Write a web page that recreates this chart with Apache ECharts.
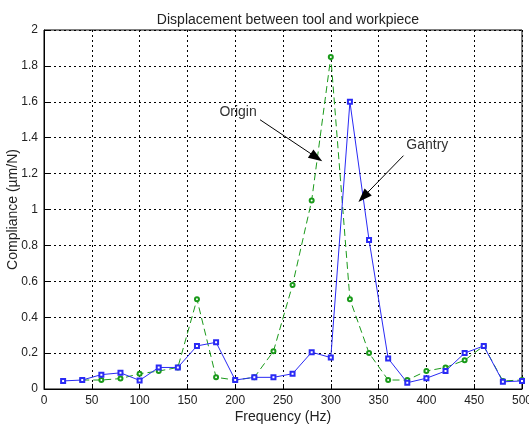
<!DOCTYPE html>
<html>
<head>
<meta charset="utf-8">
<script src="https://cdn.jsdelivr.net/npm/echarts@6/dist/echarts.min.js"></script>
<style>
  html, body { margin: 0; padding: 0; background: #fff; }
  #chart { width: 529px; height: 426px; }
</style>
</head>
<body>
<div id="chart"></div>
<script>
// frequencies (Hz)
var freq = [20, 40, 60, 80, 100, 120, 140, 160, 180, 200, 220, 240, 260,
            280, 300, 320, 340, 360, 380, 400, 420, 440, 460, 480, 500];
// compliance (um/N)
var gantry = [0.045, 0.05, 0.08, 0.09, 0.048, 0.12, 0.12, 0.24, 0.26, 0.05, 0.065, 0.065, 0.085,
              0.205, 0.175, 1.6, 0.83, 0.17, 0.035, 0.06, 0.1, 0.2, 0.24, 0.04, 0.045];
var origin = [null, 0.05, 0.05, 0.058, 0.085, 0.1, 0.12, 0.5, 0.065, 0.05, 0.065, 0.21, 0.58,
              1.05, 1.85, 0.5, 0.2, 0.05, 0.05, 0.1, 0.12, 0.16, 0.24, 0.045, 0.05];

function pairs(vals) {
  return freq.map(function (f, i) { return [f, vals[i]]; });
}

var fontFam = 'Liberation Sans, Arial, sans-serif';

var option = {
  animation: false,
  backgroundColor: '#fff',
  title: {
    text: 'Displacement between tool and workpiece',
    left: 283, top: 8, textAlign: 'center',
    textStyle: { fontSize: 14, fontWeight: 'normal', color: '#222', fontFamily: fontFam }
  },
  grid: {
    left: 44, right: 7, top: 30, bottom: 37,
    outerBoundsMode: 'none', containLabel: false,
    show: true, borderColor: '#000', borderWidth: 1
  },
  xAxis: {
    type: 'value', min: 0, max: 500, interval: 50,
    name: 'Frequency (Hz)', nameLocation: 'middle', nameGap: 21, nameMoveOverlap: false,
    nameTextStyle: { fontSize: 14, color: '#222', fontFamily: fontFam },
    axisLine: { lineStyle: { color: '#000' } },
    axisTick: { inside: true, length: 5, lineStyle: { color: '#000' } },
    axisLabel: { fontSize: 12, color: '#222', margin: 6, fontFamily: fontFam },
    splitLine: { lineStyle: { color: '#000', type: [2, 3], width: 1 } }
  },
  yAxis: {
    type: 'value', min: 0, max: 2, interval: 0.2,
    name: 'Compliance (\u00b5m/N)', nameLocation: 'middle', nameGap: 24, nameMoveOverlap: false,
    nameTextStyle: { fontSize: 14, color: '#222', fontFamily: fontFam },
    axisLine: { show: true, lineStyle: { color: '#000' } },
    axisTick: { show: true, inside: true, length: 5, lineStyle: { color: '#000' } },
    axisLabel: { fontSize: 12, color: '#222', margin: 6, fontFamily: fontFam },
    splitLine: { lineStyle: { color: '#000', type: [2, 3], width: 1 } }
  },
  series: [
    {
      name: 'Origin',
      type: 'line',
      data: pairs(origin),
      symbol: 'emptyCircle', symbolSize: 4,
      lineStyle: { color: '#1a9a1a', width: 1, type: [7, 4] },
      itemStyle: { color: '#1a9a1a', borderWidth: 1 },
      markLine: {
        silent: true, symbol: ['none', 'triangle'], symbolSize: [10, 14],
        lineStyle: { color: '#000', width: 1, type: 'solid' },
        label: { show: false },
        data: [[{ coord: [226, 1.5] }, { coord: [285, 1.29] }]]
      },
      markPoint: {
        symbol: 'circle', symbolSize: 1, itemStyle: { color: 'rgba(0,0,0,0)' },
        label: { show: true, position: 'inside', color: '#333', fontSize: 14, fontFamily: fontFam, formatter: '{b}' },
        data: [{ name: 'Origin', coord: [203, 1.54] }]
      },
      z: 2
    },
    {
      name: 'Gantry',
      type: 'line',
      data: pairs(gantry),
      symbol: 'emptyRect', symbolSize: 4,
      lineStyle: { color: '#2a2af5', width: 1 },
      itemStyle: { color: '#2a2af5', borderWidth: 1 },
      markLine: {
        silent: true, symbol: ['none', 'triangle'], symbolSize: [10, 14],
        lineStyle: { color: '#000', width: 1, type: 'solid' },
        label: { show: false },
        data: [[{ coord: [376, 1.3] }, { coord: [334, 1.07] }]]
      },
      markPoint: {
        symbol: 'circle', symbolSize: 1, itemStyle: { color: 'rgba(0,0,0,0)' },
        label: { show: true, position: 'inside', color: '#333', fontSize: 14, fontFamily: fontFam, formatter: '{b}' },
        data: [{ name: 'Gantry', coord: [401, 1.36] }]
      },
      z: 3
    }
  ]
};

echarts.init(document.getElementById('chart')).setOption(option);
</script>
</body>
</html>
